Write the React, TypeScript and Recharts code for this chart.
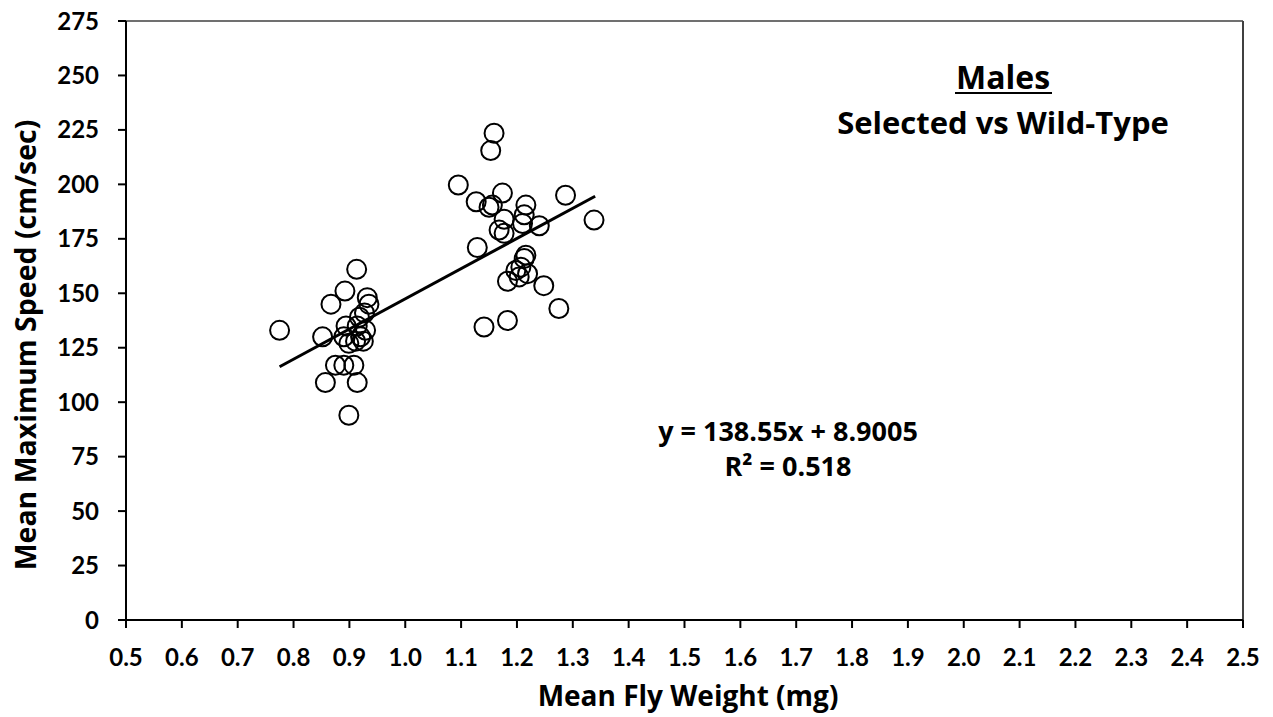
import React from 'react';
import { ScatterChart, Scatter, XAxis, YAxis, ReferenceLine } from 'recharts';

const weightsLow = [0.775, 0.852, 0.867, 0.892, 0.913, 0.932, 0.935, 0.927, 0.918, 0.894, 0.914, 0.929, 0.890, 0.920, 0.899, 0.911, 0.925, 0.875, 0.890, 0.908, 0.857, 0.914, 0.899];
const speedsLow = [133, 130, 145, 151, 161, 148, 145, 141, 139, 135, 135, 133, 130, 130, 127, 128, 128, 117, 117, 117, 109, 109, 94];

const weightsHigh = [1.159, 1.153, 1.095, 1.127, 1.174, 1.156, 1.150, 1.216, 1.213, 1.177, 1.287, 1.338, 1.240, 1.210, 1.168, 1.177, 1.129, 1.216, 1.213, 1.207, 1.198, 1.219, 1.204, 1.183, 1.248, 1.275, 1.183, 1.141];
const speedsHigh = [223.5, 215.5, 199.7, 192, 196, 190.5, 189.5, 190.5, 186, 184, 195, 183.6, 181, 182, 179, 177.5, 171, 167.5, 166, 162, 160.5, 159, 157.5, 155.5, 153.5, 143, 137.5, 134.5];

const xTicks = [0.5, 0.6, 0.7, 0.8, 0.9, 1.0, 1.1, 1.2, 1.3, 1.4, 1.5, 1.6, 1.7, 1.8, 1.9, 2.0, 2.1, 2.2, 2.3, 2.4, 2.5];
const yTicks = [0, 25, 50, 75, 100, 125, 150, 175, 200, 225, 250, 275];

const slope = 138.55;
const intercept = 8.9005;
const trendStart = 0.775;
const trendEnd = 1.34;

const points = [
  ...weightsLow.map((w, i) => ({ weight: w, speed: speedsLow[i] })),
  ...weightsHigh.map((w, i) => ({ weight: w, speed: speedsHigh[i] })),
];

const FONT = 'Lato, "Open Sans", sans-serif';
const TFONT = '"Open Sans", Lato, sans-serif';

const Ring = (props: any) => {
  const { cx, cy } = props;
  if (cx == null || cy == null) return <g />;
  return <circle cx={cx} cy={cy} r={9.5} fill="none" stroke="#000" strokeWidth={2} />;
};

export default function App() {
  const W = 1273;
  const H = 717;
  return (
    <div style={{ position: 'absolute', left: 0, top: 0, width: W, height: H, fontFamily: FONT, background: '#fff' }}>
      <ScatterChart width={W} height={H} margin={{ top: 21, right: 30, bottom: 0, left: 8 }}>
        <XAxis
          type="number"
          dataKey="weight"
          domain={[0.5, 2.5]}
          ticks={xTicks}
          tickFormatter={(v: number) => v.toFixed(1)}
          height={97}
          tickSize={8}
          tickMargin={21}
          axisLine={{ stroke: '#000', strokeWidth: 2 }}
          tickLine={{ stroke: '#000', strokeWidth: 2 }}
          tick={{ fill: '#000', fontSize: 24, fontWeight: 700, fontFamily: FONT }}
          interval={0}
        />
        <YAxis
          type="number"
          dataKey="speed"
          domain={[0, 275]}
          ticks={yTicks}
          width={118}
          tickSize={8}
          tickMargin={19}
          axisLine={{ stroke: '#000', strokeWidth: 2 }}
          tickLine={{ stroke: '#000', strokeWidth: 2 }}
          tick={{ fill: '#000', fontSize: 24, fontWeight: 700, fontFamily: FONT }}
          interval={0}
        />
        <ReferenceLine y={275} stroke="#404040" strokeWidth={1.5} />
        <ReferenceLine x={2.5} stroke="#404040" strokeWidth={2} />
        <Scatter data={points} shape={Ring} isAnimationActive={false} />
        <ReferenceLine
          segment={[
            { x: trendStart, y: slope * trendStart + intercept },
            { x: trendEnd, y: slope * trendEnd + intercept },
          ]}
          stroke="#000"
          strokeWidth={3}
        />
      </ScatterChart>
      <svg
        width={W}
        height={H}
        style={{ position: 'absolute', left: 0, top: 0, pointerEvents: 'none' }}
        fontFamily={TFONT}
        fontWeight={700}
        fill="#000"
      >
        <text x={1003} y={89} fontSize={32} textAnchor="middle">Males</text>
        <line x1={955} x2={1052} y1={93} y2={93} stroke="#000" strokeWidth={2} />
        <text x={1003} y={134} fontSize={31} textAnchor="middle">Selected vs Wild-Type</text>
        <text x={788} y={441} fontSize={27} textAnchor="middle">y = 138.55x + 8.9005</text>
        <text x={788} y={476} fontSize={27} textAnchor="middle">R² = 0.518</text>
        <text x={688} y={706} fontSize={28} textAnchor="middle">Mean Fly Weight (mg)</text>
        <text x={0} y={0} fontSize={28.5} textAnchor="middle" transform="translate(36,345) rotate(-90)">Mean Maximum Speed (cm/sec)</text>
      </svg>
    </div>
  );
}
